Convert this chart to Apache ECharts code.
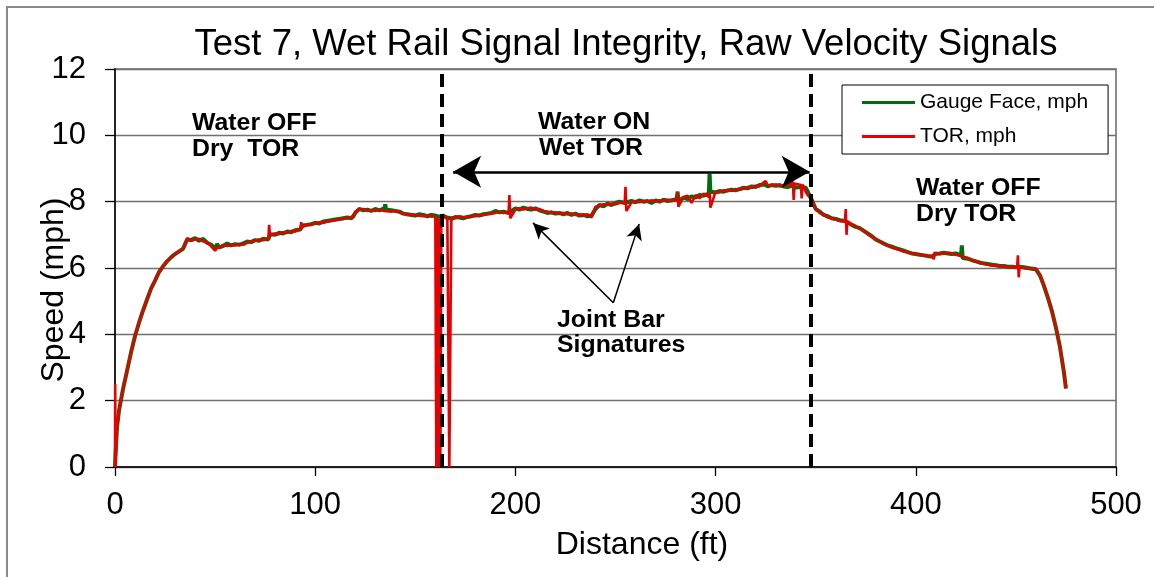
<!DOCTYPE html>
<html><head><meta charset="utf-8">
<script src="https://cdn.jsdelivr.net/npm/echarts@6/dist/echarts.min.js"></script>
<style>html,body{margin:0;padding:0;background:#fff}#c{width:1154px;height:577px}</style>
</head><body><div id="c"></div>
<script>
// ---- data ----
const distanceFt = [
 0,0.1,0.2,1,2,4,6,8,10,12,14,16,18,20,22,24,26,28,30,32,34,
 35,36,38,40,42,44,46,48,50,51,52,54,56,58,60,62,64,66,68,70,72,74,76.6,
 77,77.4,80,82,84,86,88,90,92.6,93,93.4,96,98,100,102,104,106,108,110,112,114,116,118,
 119,120,122,124,126,128,130,132,134.6,135,135.4,138,140,142,144,146,148,150,152,154,156,158,160,
 160.5,161,161.5,162,162.5,163,164,166,167,168,170,172,174,176,178,180,182,184,186,188,190,192,194,196.6,
 197,197.4,200,202,204,206,208,210,212,214,216,218,220,222,224,226,228,230,232,234,236,238,
 240,242,244,246,248,250,252,254.6,255,255.4,258,260,262,264,266,268,270,272,274,276,278,280.6,
 281,281.4,284,286,288,290,292,294,296.6,297,297.4,300,302,304,306,308,310,312,314,316,318,320,322,324,
 325,326,328,330,332,334,336,338.6,339,339.4,342.6,343,343.4,345,346,348,350,352,354,356,358,360,362,364.6,
 365,365.4,365.8,368,370,372,374,376,378,380,382,384,386,388,390,392,394,396,398,400,402,404,406,408.6,
 409,409.4,412,414,416,418,420,422.6,423,423.4,426,428,430,432,434,436,438,440,442,444,446,448,450.6,
 451,451.4,451.8,454,456,458,460,462,464,466,468,470,472,474,475
];
const gaugeFaceMph = [
 0,0.15,0.3,1.2,1.7,2.35,2.9,3.45,3.95,4.35,4.72,5.05,5.38,5.62,5.88,6.05,6.2,6.32,6.42,6.5,6.58,
 6.72,6.86,6.84,6.9,6.82,6.88,6.76,6.7,6.58,6.72,6.62,6.66,6.74,6.68,6.72,6.7,6.74,6.8,6.78,6.84,6.82,6.88,6.86,
 6.9,7.02,7.0,7.06,7.04,7.1,7.08,7.14,7.16,7.2,7.28,7.3,7.32,7.36,7.34,7.4,7.42,7.44,7.46,7.48,7.5,7.52,7.5,
 7.56,7.66,7.78,7.74,7.76,7.72,7.78,7.74,7.8,7.92,7.76,7.74,7.72,7.7,7.64,7.62,7.6,7.58,7.62,7.6,7.56,7.6,7.58,
 7.55,7.56,7.54,7.55,7.53,7.56,7.58,7.5,7.52,7.48,7.54,7.52,7.5,7.54,7.56,7.6,7.58,7.62,7.64,7.66,7.72,7.68,7.7,7.66,
 7.7,7.62,7.8,7.76,7.82,7.78,7.76,7.8,7.74,7.7,7.66,7.68,7.64,7.66,7.62,7.66,7.6,7.64,7.58,7.6,7.56,7.58,
 7.78,7.9,7.86,7.94,7.9,7.96,8.0,7.96,7.98,7.9,8.02,7.98,8.04,8.0,8.02,7.96,8.04,8.0,8.06,8.02,8.04,8.08,
 8.3,8.02,8.12,8.08,8.16,8.12,8.2,8.18,8.24,8.85,8.3,8.28,8.32,8.3,8.34,8.36,8.34,8.38,8.42,8.4,8.46,8.44,8.5,8.52,
 8.5,8.46,8.5,8.48,8.5,8.46,8.44,8.5,8.42,8.48,8.44,8.46,8.4,8.42,8.3,8.06,7.78,7.7,7.6,7.56,7.5,7.48,7.44,7.42,
 7.4,7.36,7.38,7.3,7.24,7.2,7.12,7.04,6.96,6.86,6.8,6.74,6.68,6.64,6.6,6.56,6.52,6.48,6.44,6.42,6.4,6.38,6.36,6.34,
 6.38,6.42,6.44,6.46,6.44,6.42,6.44,6.38,6.68,6.3,6.28,6.24,6.2,6.16,6.14,6.12,6.1,6.08,6.06,6.06,6.04,6.04,6.02,
 6.04,6.0,6.04,6.02,6.0,5.98,5.96,5.78,5.46,5.1,4.7,4.2,3.62,2.85,2.37
];
const torMph = [
 0,2.5,0,1.2,1.7,2.35,2.9,3.45,3.95,4.35,4.72,5.05,5.38,5.62,5.88,6.05,6.2,6.32,6.42,6.5,6.58,
 6.7,6.9,6.82,6.86,6.88,6.8,6.78,6.66,6.52,6.62,6.6,6.7,6.66,6.7,6.68,6.72,6.7,6.76,6.8,6.82,6.86,6.84,6.88,
 7.3,6.98,7.04,7.02,7.08,7.06,7.12,7.1,7.18,7.38,7.22,7.32,7.3,7.34,7.38,7.36,7.4,7.42,7.44,7.46,7.48,7.5,7.54,
 7.52,7.7,7.76,7.78,7.72,7.74,7.72,7.76,7.72,7.74,7.74,7.7,7.74,7.68,7.64,7.6,7.62,7.6,7.58,7.56,7.58,7.55,7.56,
 0,7.52,0,7.5,0,7.55,7.52,7.55,0,7.52,7.5,7.56,7.54,7.52,7.58,7.56,7.6,7.6,7.62,7.64,7.66,7.7,7.66,7.68,
 8.2,7.5,7.76,7.8,7.76,7.8,7.82,7.76,7.78,7.72,7.7,7.66,7.68,7.64,7.66,7.62,7.64,7.6,7.62,7.58,7.62,7.52,
 7.85,7.88,7.92,7.9,7.94,7.92,7.96,7.98,8.45,7.72,7.98,8.02,7.98,8.02,8.0,8.04,8.0,8.04,8.02,8.06,8.02,8.05,
 8.3,7.85,8.14,8.18,7.96,8.2,8.1,8.24,8.14,8.3,7.82,8.3,8.28,8.34,8.32,8.34,8.38,8.36,8.4,8.44,8.42,8.48,8.46,8.58,
 8.62,8.5,8.48,8.52,8.46,8.5,8.48,8.6,8.05,8.55,8.5,8.1,8.52,8.3,8.2,8.05,7.8,7.66,7.62,7.52,7.5,7.46,7.42,7.4,
 7.78,7.0,7.4,7.32,7.26,7.18,7.14,7.02,6.94,6.88,6.8,6.72,6.68,6.62,6.58,6.54,6.5,6.48,6.44,6.42,6.4,6.38,6.36,6.36,
 6.26,6.46,6.42,6.44,6.46,6.44,6.4,6.36,6.34,6.32,6.3,6.22,6.2,6.18,6.12,6.1,6.08,6.08,6.06,6.04,6.04,6.02,6.02,
 6.38,5.72,6.02,6.0,5.98,6.0,5.98,5.8,5.48,5.1,4.7,4.2,3.62,2.85,2.37
];
const seriesNames = ['Gauge Face, mph', 'TOR, mph'];
const waterBoundariesFt = [163.3, 347.5];
const titleText = 'Test 7, Wet Rail Signal Integrity, Raw Velocity Signals';
const xAxisTitle = 'Distance (ft)';
const yAxisTitle = 'Speed (mph)';

// ---- chart ----
const FONT = '"Liberation Sans", Arial, Helvetica, sans-serif';
const gaugeData = distanceFt.map((d, i) => [d, gaugeFaceMph[i]]);
const torData = distanceFt.map((d, i) => [d, torMph[i]]);

const chart = echarts.init(document.getElementById('c'), null, {renderer: 'canvas'});

function label(text, x, y, opts) {
  opts = opts || {};
  return {
    type: 'text', x: x, y: y, z: 100, silent: true,
    rotation: opts.rotation || 0,
    scaleX: opts.scaleX || 1,
    style: {
      text: text,
      font: (opts.bold ? 'bold ' : '') + (opts.size || 23) + 'px ' + FONT,
      fill: '#000',
      align: opts.align || 'left',
      verticalAlign: 'middle'
    }
  };
}

const option = {
  animation: false,
  backgroundColor: '#fff',
  grid: {left: 115, right: 38, top: 69, bottom: 110, show: true,
         borderColor: '#8c8c8c', borderWidth: 2, backgroundColor: 'transparent'},
  xAxis: {
    type: 'value', min: 0, max: 500, interval: 100,
    axisLine: {show: true, onZero: false, lineStyle: {color: '#000', width: 1.5}},
    axisTick: {show: true, length: 9, lineStyle: {color: '#000', width: 1.3}},
    axisLabel: {fontSize: 31, color: '#000', fontFamily: FONT, margin: 23},
    splitLine: {show: false}
  },
  yAxis: {
    type: 'value', min: 0, max: 12, interval: 2,
    axisLine: {show: true, lineStyle: {color: '#000', width: 1.5}},
    axisTick: {show: true, length: 10, lineStyle: {color: '#000', width: 1.3}},
    axisLabel: {fontSize: 31, color: '#000', fontFamily: FONT, margin: 29},
    splitLine: {show: true, lineStyle: {color: '#707070', width: 1.3}}
  },
  legend: {
    data: seriesNames, orient: 'vertical', left: 842, top: 85,
    padding: [7, 20, 7, 20], itemGap: 13, itemWidth: 53, itemHeight: 3,
    icon: 'rect',
    backgroundColor: '#fff', borderColor: '#000', borderWidth: 1, borderRadius: 0,
    selectedMode: false,
    textStyle: {fontSize: 21, color: '#000', fontFamily: FONT, lineHeight: 20}
  },
  series: [
    {
      name: seriesNames[0], type: 'line', data: gaugeData, symbol: 'none', z: 2,
      lineStyle: {color: '#006e0a', width: 4}, itemStyle: {color: '#006e0a'}
    },
    {
      name: seriesNames[1], type: 'line', data: torData, symbol: 'none', z: 3,
      lineStyle: {color: '#e60000', width: 2.6}, itemStyle: {color: '#e60000'},
      markLine: {
        silent: true, animation: false, symbol: 'none', label: {show: false},
        lineStyle: {color: '#000', width: 4, type: [13, 7]},
        emphasis: {disabled: true},
        data: [
          {xAxis: waterBoundariesFt[0]},
          {xAxis: waterBoundariesFt[1]},
          [
            {coord: [168.9, 8.9], symbol: 'arrow', symbolSize: [24, 28],
             lineStyle: {color: '#000', width: 2.5, type: 'solid'}},
            {coord: [347.0, 8.9], symbol: 'arrow', symbolSize: [24, 28]}
          ],
          [
            {coord: [248.9, 4.95], symbol: 'none',
             lineStyle: {color: '#000', width: 1.5, type: 'solid'}},
            {coord: [208.8, 7.36], symbol: 'arrow', symbolSize: [12, 16]}
          ],
          [
            {coord: [248.9, 4.95], symbol: 'none',
             lineStyle: {color: '#000', width: 1.5, type: 'solid'}},
            {coord: [261.8, 7.33], symbol: 'arrow', symbolSize: [12, 16]}
          ]
        ]
      }
    }
  ],
  graphic: [
    {type: 'rect', z: 0, silent: true, shape: {x: 7, y: 7, width: 1200, height: 620},
     style: {fill: null, stroke: '#8a8a8a', lineWidth: 2}},
    label(titleText, 626, 45, {size: 36.5, align: 'center'}),
    label(xAxisTitle, 642, 545, {size: 32, align: 'center'}),
    label(yAxisTitle, 54, 290, {size: 32, align: 'center', rotation: Math.PI / 2}),
    label('Water OFF', 192, 124, {bold: true, scaleX: 1.08}),
    label('Dry  TOR', 192, 150, {bold: true, scaleX: 1.08}),
    label('Water ON', 538, 123, {bold: true, scaleX: 1.08}),
    label('Wet TOR', 539, 149, {bold: true, scaleX: 1.08}),
    label('Joint Bar', 557, 320.5, {bold: true, scaleX: 1.08}),
    label('Signatures', 557, 346, {bold: true, scaleX: 1.08}),
    label('Water OFF', 916, 188.5, {bold: true, scaleX: 1.08}),
    label('Dry TOR', 916, 215, {bold: true, scaleX: 1.08})
  ]
};
chart.setOption(option);
</script>
</body></html>
